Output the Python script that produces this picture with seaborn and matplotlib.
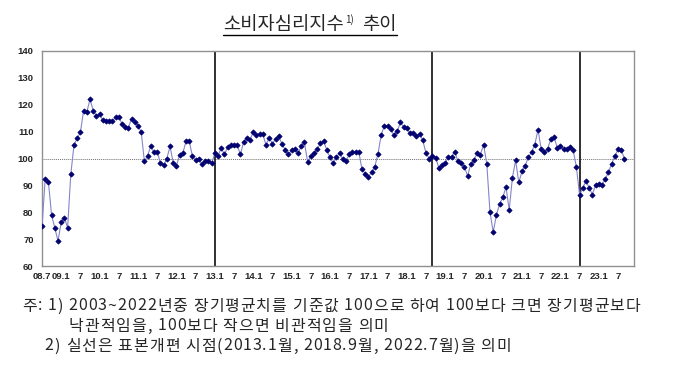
import matplotlib
matplotlib.use("Agg")
import matplotlib.pyplot as plt
import seaborn as sns
import pandas as pd
from matplotlib.lines import Line2D
from matplotlib.font_manager import FontProperties

# monthly consumer sentiment index, 2008.7 ~ 2023.9
ccsi_2008 = [74.7, 92.4, 91.3, 78.9, 74.2, 69.3]
ccsi_2009 = [76.3, 77.9, 74.2, 94.2, 105.0, 107.5, 109.7, 117.8, 117.2, 122.1, 117.8, 115.9]
ccsi_2010 = [116.5, 114.2, 113.9, 113.8, 113.8, 115.4, 115.4, 112.9, 111.9, 111.5, 114.8, 113.6]
ccsi_2011 = [112.2, 109.9, 98.9, 101.1, 104.6, 102.3, 102.6, 98.3, 97.4, 99.9, 104.5, 98.5]
ccsi_2012 = [97.2, 101.4, 101.9, 106.4, 106.6, 100.8, 99.4, 99.8, 97.8, 99.0, 99.1, 98.2]
ccsi_2013 = [101.9, 100.9, 104.0, 101.5, 104.1, 105.0, 105.0, 105.0, 101.5, 106.2, 107.7, 107.0]
ccsi_2014 = [109.8, 108.8, 109.1, 109.1, 105.0, 107.8, 105.5, 107.2, 108.2, 105.4, 103.2, 101.5]
ccsi_2015 = [103.0, 103.6, 101.9, 104.5, 106.0, 98.8, 100.9, 102.0, 103.4, 105.7, 106.4, 103.2]
ccsi_2016 = [100.4, 98.2, 100.5, 102.1, 99.7, 99.1, 101.5, 102.4, 102.4, 102.4, 96.0, 94.4]
ccsi_2017 = [93.3, 94.8, 97.0, 101.7, 108.8, 112.2, 112.2, 110.9, 108.6, 110.1, 113.4, 111.9]
ccsi_2018 = [111.2, 109.4, 109.4, 108.2, 109.2, 106.7, 102.0, 100.0, 101.1, 100.3, 96.6, 97.7]
ccsi_2019 = [98.4, 100.5, 100.6, 102.5, 98.9, 98.4, 96.9, 93.5, 97.9, 99.5, 102.0, 101.4]
ccsi_2020 = [105.2, 97.9, 80.0, 72.6, 79.0, 83.1, 85.5, 89.4, 80.9, 92.8, 99.3, 91.1]
ccsi_2021 = [95.2, 97.3, 100.5, 102.4, 105.2, 110.7, 103.5, 102.5, 103.7, 107.1, 108.1, 104.0]
ccsi_2022 = [104.6, 103.5, 103.6, 104.2, 103.0, 96.8, 86.3, 89.1, 91.6, 89.1, 86.6, 90.3]
ccsi_2023 = [90.6, 90.3, 92.2, 94.9, 98.0, 100.8, 103.4, 103.3, 99.9]

xtick_labels = ['08.7', '09.1', '7', '10.1', '7', '11.1', '7', '12.1', '7', '13.1', '7',
                '14.1', '7', '15.1', '7', '16.1', '7', '17.1', '7', '18.1', '7', '19.1', '7',
                '20.1', '7', '21.1', '7', '22.1', '7', '23.1', '7']
sample_breaks = [(2013, 1), (2018, 9), (2022, 7)]

note1 = '주: 1) 2003~2022년중 장기평균치를 기준값 100으로 하여 100보다 크면 장기평균보다'
note1b = '낙관적임을, 100보다 작으면 비관적임을 의미'
note2 = '2) 실선은 표본개편 시점(2013.1월, 2018.9월, 2022.7월)을 의미'

values = (ccsi_2008 + ccsi_2009 + ccsi_2010 + ccsi_2011 + ccsi_2012 + ccsi_2013 + ccsi_2014
          + ccsi_2015 + ccsi_2016 + ccsi_2017 + ccsi_2018 + ccsi_2019 + ccsi_2020 + ccsi_2021
          + ccsi_2022 + ccsi_2023)
df = pd.DataFrame({'t': range(len(values)), 'ccsi': values})

sns.set_style("white")
plt.rcParams['font.family'] = ['Noto Sans CJK KR', 'DejaVu Sans']

fig = plt.figure(figsize=(6.8, 3.67), dpi=100)
ax = fig.add_axes([42 / 680, 1 - 266 / 367, 592 / 680, 215 / 367])

ax.axhline(100, color='#707070', lw=0.7, ls=(0, (1, 1)), zorder=1)
for y, m in sample_breaks:
    ax.axvline((y - 2008) * 12 + m - 7, color='#202020', lw=1.3, zorder=2)

sns.lineplot(data=df, x='t', y='ccsi', ax=ax, color='#8585cc', lw=0.8,
             marker='D', markersize=2.7, mfc='#000070', mec='#000070', mew=0.5, zorder=3)

ax.set_xlim(0, 185)
ax.set_ylim(60, 140)
ax.set_yticks(range(60, 141, 10))
ax.set_xticks(range(0, 181, 6))
ax.set_xticklabels(xtick_labels)
ax.set_xlabel('')
ax.set_ylabel('')
for lab in ax.get_xticklabels() + ax.get_yticklabels():
    lab.set_family('Liberation Sans')
    lab.set_fontweight('bold')
    lab.set_fontsize(6.8)
ax.tick_params(axis='x', direction='in', length=3, color='#808080', pad=4)
ax.tick_params(axis='y', length=0, pad=6)
for s in ax.spines.values():
    s.set_color('#909090')
    s.set_linewidth(1.0)

fig.canvas.draw()
r = fig.canvas.get_renderer()
W, H = fig.bbox.width, fig.bbox.height

# title with superscript and underline
base_y = 1 - 30 / 367
t1 = fig.text(223 / W, base_y, '소비자심리지수', fontsize=13.5, ha='left', va='baseline')
e1 = t1.get_window_extent(r)
t2 = fig.text((e1.x1 + 1) / W, base_y + 7 / H, '1)', fontsize=7, ha='left', va='baseline')
e2 = t2.get_window_extent(r)
t3 = fig.text((e2.x1 + 9) / W, base_y, '추이', fontsize=13.5, ha='left', va='baseline')
e3 = t3.get_window_extent(r)
uy = base_y - 5 / H
fig.add_artist(Line2D([e1.x0 / W, e3.x1 / W], [uy, uy], color='black', lw=1.0))

# footnotes, drawn with a little letter spacing like the original
fs = 11.5
fp = FontProperties(family=['Noto Sans CJK KR', 'DejaVu Sans'], size=fs)


def tw(s):
    return r.get_text_width_height_descent('a' + s + 'a', fp, ismath=False)[0] - \
        r.get_text_width_height_descent('aa', fp, ismath=False)[0]


def draw_spaced(x, y, s, track):
    for c in s:
        if c != ' ':
            fig.text(x / W, 1 - y / 367, c, fontproperties=fp, va='center', ha='left')
        x += tw(c) + track
    return x


natural = sum(tw(c) for c in note1)
track = (640 - 22 - natural) / (len(note1) - 1)
draw_spaced(22, 306, note1, track)
indent = sum(tw(c) + track for c in '주: 1) ')
draw_spaced(22 + indent, 326, note1b, track)
indent2 = sum(tw(c) + track for c in '주: ')
draw_spaced(22 + indent2 - 3, 346, note2, track)

fig.savefig('out.png', dpi=100)
